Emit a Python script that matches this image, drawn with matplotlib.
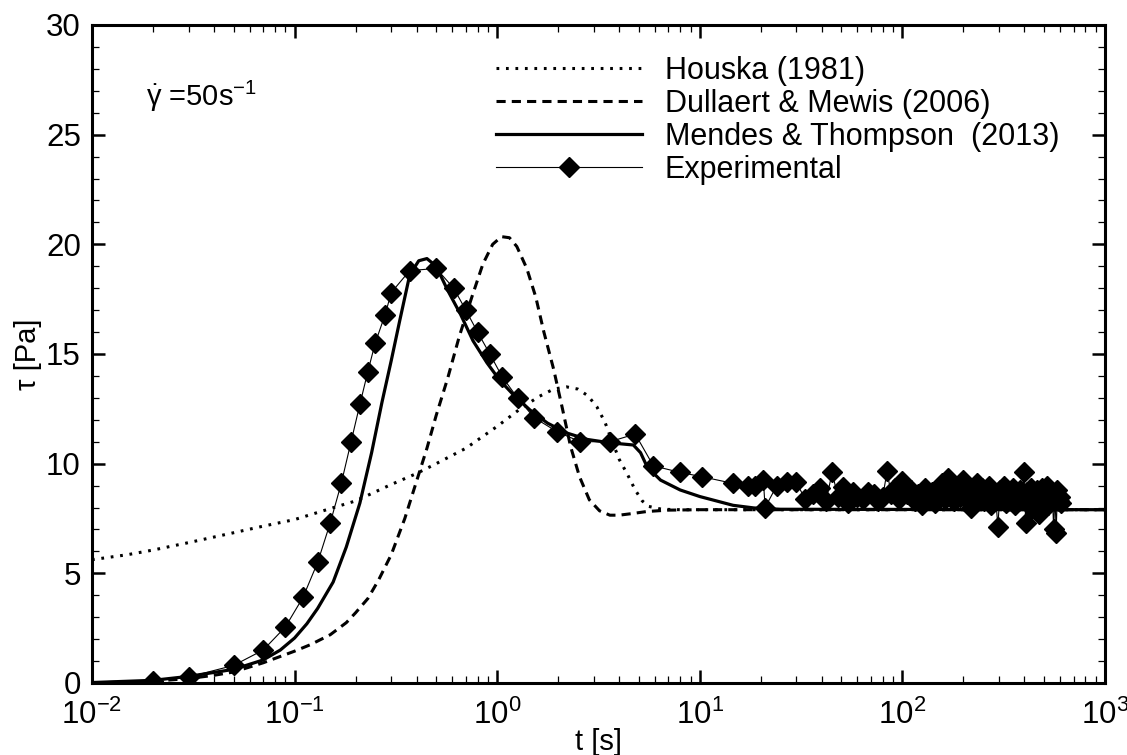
import matplotlib
matplotlib.use("Agg")
import matplotlib.pyplot as plt
from matplotlib.ticker import LogLocator, MultipleLocator, NullFormatter

plt.rcParams["font.family"] = ["Liberation Sans", "DejaVu Sans"]
plt.rcParams["mathtext.fontset"] = "custom"
plt.rcParams["mathtext.rm"] = "Liberation Sans"
plt.rcParams["mathtext.it"] = "Liberation Sans"
plt.rcParams["mathtext.bf"] = "Liberation Sans:bold"

# Houska (1981)
houska_t = [0.01, 0.015, 0.02, 0.03, 0.05, 0.07, 0.1, 0.15, 0.2, 0.3, 0.4, 0.5,
            0.7, 1.0, 1.3, 1.6, 1.9, 2.2, 2.5, 2.8, 3.1, 3.4, 3.7, 4.0, 4.4, 4.8,
            5.2, 5.6, 6.5, 8, 10, 20, 50, 100, 1000]
houska_tau = [5.62, 5.85, 6.06, 6.4, 6.85, 7.15, 7.45, 7.95, 8.3, 9.05, 9.55, 10.0,
              10.7, 11.7, 12.5, 13.05, 13.4, 13.5, 13.4, 13.1, 12.6, 11.9, 11.0, 10.2,
              9.5, 8.8, 8.3, 8.05, 7.92, 7.9, 7.9, 7.9, 7.9, 7.9, 7.9]

# Dullaert & Mewis (2006)
dullaert_t = [0.01, 0.02, 0.03, 0.04, 0.05, 0.07, 0.1, 0.12, 0.15, 0.18, 0.2, 0.23,
              0.26, 0.3, 0.35, 0.4, 0.45, 0.5, 0.57, 0.65, 0.75, 0.85, 0.95, 1.05,
              1.15, 1.25, 1.4, 1.55, 1.7, 1.9, 2.1, 2.3, 2.55, 2.85, 3.2, 3.6, 4.0,
              4.6, 5.5, 7, 10, 1000]
dullaert_tau = [0.0, 0.08, 0.2, 0.35, 0.5, 0.92, 1.45, 1.75, 2.2, 2.75, 3.2, 3.85,
                4.7, 5.85, 7.5, 9.2, 10.7, 12.2, 13.9, 15.8, 17.6, 19.1, 20.0, 20.35,
                20.3, 19.9, 18.9, 17.6, 16.0, 14.3, 12.5, 10.8, 9.4, 8.35, 7.85, 7.65,
                7.65, 7.72, 7.82, 7.88, 7.9, 7.9]

# Mendes & Thompson (2013)
mendes_t = [0.01, 0.02, 0.03, 0.05, 0.07, 0.085, 0.1, 0.115, 0.13, 0.155, 0.18,
            0.21, 0.24, 0.27, 0.3, 0.33, 0.37, 0.41, 0.45, 0.5, 0.57, 0.66, 0.76,
            0.89, 1.03, 1.2, 1.45, 1.77, 2.2, 2.8, 3.6, 4.7, 5.1, 5.5, 6.4, 8, 10,
            14.6, 18.5, 25, 1000]
mendes_tau = [0.02, 0.12, 0.3, 0.62, 1.05, 1.5, 2.05, 2.7, 3.4, 4.6, 6.2,
              8.2, 10.5, 12.8, 14.7, 16.5, 18.6, 19.25, 19.35, 19.0, 17.9, 16.8, 15.6,
              14.6, 13.8, 13.15, 12.45, 11.85, 11.4, 11.1, 10.95, 10.85, 10.5, 9.85,
              9.25, 8.8, 8.5, 8.1, 7.98, 7.92, 7.9]

# Experimental
exp_t = [0.01, 0.02, 0.03, 0.05, 0.07, 0.09, 0.11, 0.13, 0.15, 0.17, 0.19, 0.21,
         0.23, 0.25, 0.28, 0.3, 0.37, 0.5, 0.61, 0.7, 0.8, 0.92, 1.06, 1.26, 1.52,
         1.98, 2.57, 3.6, 4.8, 5.9, 8.0, 10.3, 14.6, 17.2, 18.8, 20.6, 21,
         24, 27, 30, 33, 36, 39, 42, 45, 48, 51, 54, 57, 60, 64, 68, 72, 76, 80,
         84, 88, 92, 96, 100, 105, 110, 115, 120, 125, 130, 135, 140, 145, 150,
         156, 162, 168, 174, 180, 186, 192, 198, 205, 212, 219, 226, 233, 240,
         247, 254, 261, 268, 275, 282, 289, 296, 303, 310, 318, 326, 334, 342,
         350, 358, 366, 374, 382, 390, 398, 406, 414, 422, 430, 438, 446, 454,
         462, 470, 478, 486, 494, 502, 510, 518, 526, 534, 542, 550, 558, 566,
         574, 582, 590, 598, 605]
exp_tau = [0.03, 0.1, 0.27, 0.8, 1.5, 2.55, 3.9, 5.5, 7.3, 9.1, 11.0, 12.7,
           14.2, 15.5, 16.8, 17.8, 18.8, 18.9, 18.0, 17.0, 16.0, 15.0, 13.95, 13.0, 12.1,
           11.45, 11.0, 11.0, 11.35, 9.9, 9.6, 9.4, 9.1, 9.0, 9.0, 9.25, 8.0,
           9.0, 9.15, 9.15, 8.4, 8.6, 8.9, 8.3, 9.6, 8.5, 8.95, 8.2, 8.7, 8.5, 8.4,
           8.7, 8.6, 8.3, 8.5, 9.65, 8.6, 8.9, 8.4, 9.2, 8.6, 8.8, 8.3, 8.6, 8.1,
           8.9, 8.5, 8.7, 8.2, 8.6, 9.1, 8.4, 9.35, 8.7, 8.3, 8.9, 8.5, 9.25, 8.4,
           8.8, 8.0, 8.7, 9.1, 8.5, 8.9, 8.3, 8.6, 9.0, 8.1, 8.7, 8.4, 7.1, 8.8,
           8.5, 9.0, 8.2, 8.7, 8.4, 8.9, 8.1, 8.6, 8.3, 8.8, 8.5, 9.6, 7.3, 8.7,
           8.3, 8.9, 8.0, 8.6, 8.4, 8.8, 7.7, 8.5, 8.9, 8.2, 8.6, 8.4, 9.0, 8.1,
           8.7, 8.3, 8.5, 7.0, 8.6, 6.85, 8.8, 8.3, 8.5, 8.2]

fig = plt.figure(figsize=(11.27, 7.55), dpi=100)
ax = fig.add_axes([0.0816, 0.0954, 0.8989, 0.8715])

ax.plot(houska_t, houska_tau, color="black", lw=2.2,
        linestyle=(0, (0.9, 2.2)), label="Houska (1981)")
ax.plot(dullaert_t, dullaert_tau, color="black", lw=2.2,
        linestyle=(0, (3.0, 2.0)), label="Dullaert & Mewis (2006)")
ax.plot(mendes_t, mendes_tau, color="black", lw=2.3,
        label="Mendes & Thompson  (2013)")
ax.plot(exp_t, exp_tau, color="black", lw=0.8, marker="D", markersize=10.5,
        markevery=slice(1, None), label="Experimental")

ax.set_xscale("log")
ax.set_xlim(1e-2, 1e3)
ax.set_ylim(0, 30)
ax.yaxis.set_major_locator(MultipleLocator(5))
ax.yaxis.set_minor_locator(MultipleLocator(1))
ax.xaxis.set_major_locator(LogLocator(base=10, numticks=10))
ax.xaxis.set_minor_locator(LogLocator(base=10, subs=range(2, 10), numticks=100))
ax.xaxis.set_minor_formatter(NullFormatter())

for sp in ax.spines.values():
    sp.set_linewidth(2.2)
ax.tick_params(which="both", direction="in", top=True, right=True)
ax.tick_params(which="major", length=9.5, width=1.8, labelsize=22.5)
ax.tick_params(which="minor", length=5, width=0.9)
ax.tick_params(axis="y", which="major", pad=8)
ax.tick_params(axis="x", which="major", pad=12)

ax.set_xlabel("t [s]", fontsize=21)
ax.xaxis.set_label_coords(0.5, -0.068)
ax.set_ylabel("τ [Pa]", fontsize=21)
ax.yaxis.set_label_coords(-0.049, 0.5)

ax.text(0.053, 0.877, r"$\dot{\gamma}$ =50s$^{-1}$", transform=ax.transAxes,
        fontsize=21, va="baseline", ha="left")

ax.legend(loc="upper left", bbox_to_anchor=(496 / 1127, 1 - 56 / 755),
          bbox_transform=fig.transFigure, frameon=False, fontsize=22,
          handlelength=4.77, handletextpad=0.75, labelspacing=0.095,
          borderpad=0, borderaxespad=0, numpoints=1)

fig.savefig("out.png", dpi=100)
